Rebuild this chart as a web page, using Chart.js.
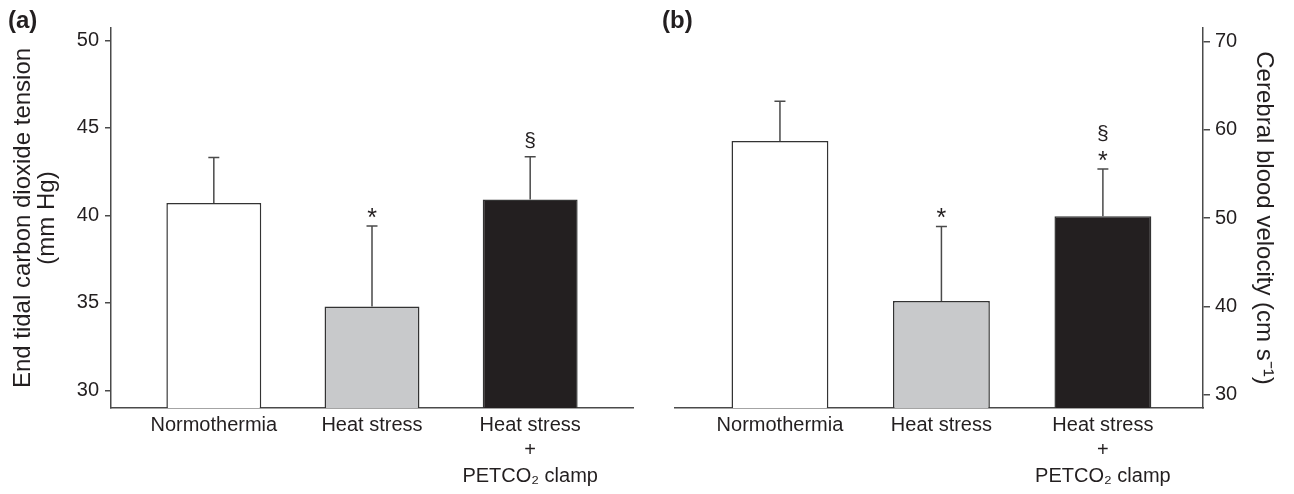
<!DOCTYPE html>
<html>
<head>
<meta charset="utf-8">
<script src="https://cdn.jsdelivr.net/npm/chart.js@4.4.1/dist/chart.umd.min.js"></script>
<style>
  body { margin: 0; background: #fff; }
  #wrap { display: flex; width: 1294px; height: 494px; }
  .panel { position: relative; width: 647px; height: 494px; }
</style>
</head>
<body>
<div id="wrap">
  <div class="panel"><canvas id="chart-a"></canvas></div>
  <div class="panel"><canvas id="chart-b"></canvas></div>
</div>
<script>
const categoryLabels = [['Normothermia'], ['Heat stress'], ['Heat stress', '+', 'PETCO₂ clamp']];
const barColors = ['#ffffff', '#c8c9cb', '#231f20'];

// (a) end tidal CO2, mm Hg
const petco2Mean = [40.7, 34.8, 40.9];
const petco2Sd = [2.6, 4.6, 2.45];
const petco2Marks = [[], ['*'], ['§']];
const petco2Ticks = [30, 35, 40, 45, 50];

// (b) cerebral blood velocity, cm/s
const cbvMean = [58.7, 40.6, 50.2];
const cbvSd = [4.5, 8.45, 5.35];
const cbvMarks = [[], ['*'], ['*', '§']];
const cbvTicks = [30, 40, 50, 60, 70];

const FONT = '"Liberation Sans", Arial, Helvetica, sans-serif';
const TEXT = '#231f20';
const AXIS = '#4a4a4a';

function errorBars(means, sds, marks) {
  return {
    id: 'errorBars',
    afterDatasetsDraw(chart) {
      const { ctx } = chart;
      const y = chart.scales.y;
      const bars = chart.getDatasetMeta(0).data;
      ctx.save();
      ctx.strokeStyle = AXIS;
      ctx.lineWidth = 1.5;
      ctx.fillStyle = TEXT;
      ctx.textAlign = 'center';
      ctx.textBaseline = 'alphabetic';
      bars.forEach((bar, i) => {
        const top = y.getPixelForValue(means[i] + sds[i]);
        ctx.beginPath();
        ctx.moveTo(bar.x, bar.y);
        ctx.lineTo(bar.x, top);
        ctx.moveTo(bar.x - 5.5, top);
        ctx.lineTo(bar.x + 5.5, top);
        ctx.stroke();
        let bottom = top - 8;
        marks[i].forEach(m => {
          ctx.font = (m === '*' ? '25px ' : '21px ') + FONT;
          const mt = ctx.measureText(m);
          const base = bottom - mt.actualBoundingBoxDescent;
          ctx.fillText(m, bar.x, base);
          bottom = base - mt.actualBoundingBoxAscent - 9;
        });
      });
      ctx.restore();
    }
  };
}

function panelTag(text, x) {
  return {
    id: 'panelTag',
    afterDraw(chart) {
      const { ctx } = chart;
      ctx.save();
      ctx.fillStyle = TEXT;
      ctx.font = 'bold 24px ' + FONT;
      ctx.textAlign = 'left';
      ctx.textBaseline = 'alphabetic';
      ctx.fillText(text, x, 28);
      ctx.restore();
    }
  };
}

function makeChart(id, cfg) {
  return new Chart(document.getElementById(id), {
    type: 'bar',
    data: {
      datasets: [{
        data: cfg.means.map((v, i) => ({ x: i, y: v })),
        backgroundColor: barColors,
        borderColor: '#333333',
        borderWidth: 1.5,
        barPercentage: 0.6,
        categoryPercentage: 1.0
      }]
    },
    options: {
      responsive: true,
      maintainAspectRatio: false,
      animation: false,
      layout: { padding: cfg.padding },
      plugins: { legend: { display: false }, tooltip: { enabled: false } },
      scales: {
        x: {
          type: 'linear',
          offset: false,
          min: cfg.xMin,
          max: cfg.xMax,
          grid: { display: false, drawTicks: false },
          border: { display: true, color: AXIS, width: 1.5 },
          afterBuildTicks: s => { s.ticks = categoryLabels.map((_, i) => ({ value: i })); },
          afterFit: s => { s.height = 86; },
          ticks: {
            callback: (v, i) => categoryLabels[i],
            autoSkip: false,
            maxRotation: 0,
            padding: 5,
            color: TEXT,
            font: { family: FONT, size: 20, lineHeight: 1.26 }
          }
        },
        y: {
          position: cfg.yPos,
          min: cfg.yMin,
          max: cfg.yMax,
          afterBuildTicks: s => { s.ticks = cfg.yTicks.map(v => ({ value: v })); },
          afterFit: s => { s.width = cfg.yWidth; },
          grid: { drawOnChartArea: false, drawTicks: true, tickLength: cfg.tickLen, color: AXIS, lineWidth: 1.5 },
          border: { display: true, color: AXIS, width: 1.5 },
          ticks: { padding: cfg.tickPad, color: TEXT, font: { family: FONT, size: 20 } },
          title: {
            display: true,
            text: cfg.title,
            color: TEXT,
            font: { family: FONT, size: 24, lineHeight: 1.0 },
            padding: { top: cfg.titlePad, bottom: 0 }
          }
        }
      }
    },
    plugins: [errorBars(cfg.means, cfg.sds, cfg.marks), panelTag(cfg.tag, cfg.tagX)]
  });
}

makeChart('chart-a', {
  means: petco2Mean, sds: petco2Sd, marks: petco2Marks, yTicks: petco2Ticks,
  yMin: 29, yMax: 50.7, xMin: -0.65, xMax: 2.65,
  yPos: 'left', yWidth: 111, tickLen: 6, tickPad: 6, titlePad: 11.5,
  title: ['End tidal carbon dioxide tension', '(mm Hg)'],
  padding: { left: 0, top: 28, right: 14, bottom: 0 },
  tag: '(a)', tagX: 8
});

makeChart('chart-b', {
  means: cbvMean, sds: cbvSd, marks: cbvMarks, yTicks: cbvTicks,
  yMin: 28.5, yMax: 71.5, xMin: -0.65, xMax: 2.62,
  yPos: 'right', yWidth: 91, tickLen: 7, tickPad: 5, titlePad: 18,
  title: 'Cerebral blood velocity (cm s⁻¹)',
  padding: { left: 28, top: 28, right: 0, bottom: 0 },
  tag: '(b)', tagX: 15
});
</script>
</body>
</html>
